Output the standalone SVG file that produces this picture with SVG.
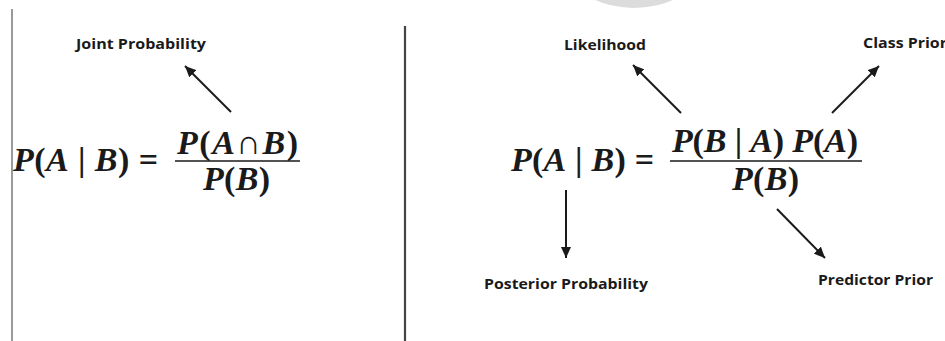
<svg xmlns="http://www.w3.org/2000/svg" width="945" height="341" viewBox="0 0 945 341">
<style>
.lbl{font-family:"Open Sans","Liberation Sans",sans-serif;font-weight:bold;font-size:14px;fill:#1a1a1a}
.eq{font-family:"Liberation Serif","Times New Roman",serif;font-weight:bold;font-size:34px;fill:#1a1a1a}
.it{font-style:italic}
.conn line{stroke:#1a1a1a;stroke-width:2;marker-end:url(#ah)}
</style>
<defs>
<marker id="ah" markerUnits="userSpaceOnUse" markerWidth="12" markerHeight="10" refX="11" refY="5" orient="auto">
<path d="M0,0 L11,5 L0,10 Z" fill="#1a1a1a"/>
</marker>
</defs>
<rect width="945" height="341" fill="#ffffff"/>
<ellipse cx="634" cy="-30" rx="63" ry="38" fill="#dcdcdc"/>
<line x1="12" y1="9" x2="12" y2="341" stroke="#9a9a9a" stroke-width="2"/>
<line x1="405" y1="26" x2="405" y2="341" stroke="#444" stroke-width="2.2"/>

<g id="joint-formula">
<text class="eq" x="13" y="171" textLength="145" lengthAdjust="spacing"><tspan class="it">P</tspan>(<tspan class="it">A</tspan> | <tspan class="it">B</tspan>) =</text>
<text class="eq" x="177" y="154" textLength="121" lengthAdjust="spacing"><tspan class="it">P</tspan>(<tspan class="it">A</tspan>∩<tspan class="it">B</tspan>)</text>
<line x1="175" y1="161" x2="300" y2="161" stroke="#1a1a1a" stroke-width="1.6"/>
<text class="eq" x="203" y="190" textLength="67" lengthAdjust="spacing"><tspan class="it">P</tspan>(<tspan class="it">B</tspan>)</text>
</g>
<g id="joint-label"><text class="lbl" x="76" y="49" textLength="130" lengthAdjust="spacingAndGlyphs">Joint Probability</text></g>

<g id="bayes-formula">
<text class="eq" x="511" y="171" textLength="143" lengthAdjust="spacing"><tspan class="it">P</tspan>(<tspan class="it">A</tspan> | <tspan class="it">B</tspan>) =</text>
<text class="eq" x="672" y="152" textLength="186" lengthAdjust="spacing"><tspan class="it">P</tspan>(<tspan class="it">B</tspan> | <tspan class="it">A</tspan>) <tspan class="it">P</tspan>(<tspan class="it">A</tspan>)</text>
<line x1="670" y1="161" x2="862" y2="161" stroke="#1a1a1a" stroke-width="1.6"/>
<text class="eq" x="732" y="190" textLength="67" lengthAdjust="spacing"><tspan class="it">P</tspan>(<tspan class="it">B</tspan>)</text>
</g>
<g id="likelihood"><text class="lbl" x="564" y="50" textLength="82" lengthAdjust="spacingAndGlyphs">Likelihood</text></g>
<g id="class-prior"><text class="lbl" x="863" y="48" textLength="84" lengthAdjust="spacingAndGlyphs">Class Prior</text></g>
<g id="posterior"><text class="lbl" x="484" y="289" textLength="164" lengthAdjust="spacingAndGlyphs">Posterior Probability</text></g>
<g id="predictor-prior"><text class="lbl" x="818" y="285" textLength="115" lengthAdjust="spacingAndGlyphs">Predictor Prior</text></g>

<g id="connectors" class="conn">
<line x1="231" y1="112" x2="185" y2="66"/>
<line x1="681" y1="113" x2="633" y2="65"/>
<line x1="832" y1="113" x2="879" y2="66"/>
<line x1="566" y1="190" x2="566" y2="258"/>
<line x1="777" y1="209" x2="825" y2="258"/>
</g>
</svg>
